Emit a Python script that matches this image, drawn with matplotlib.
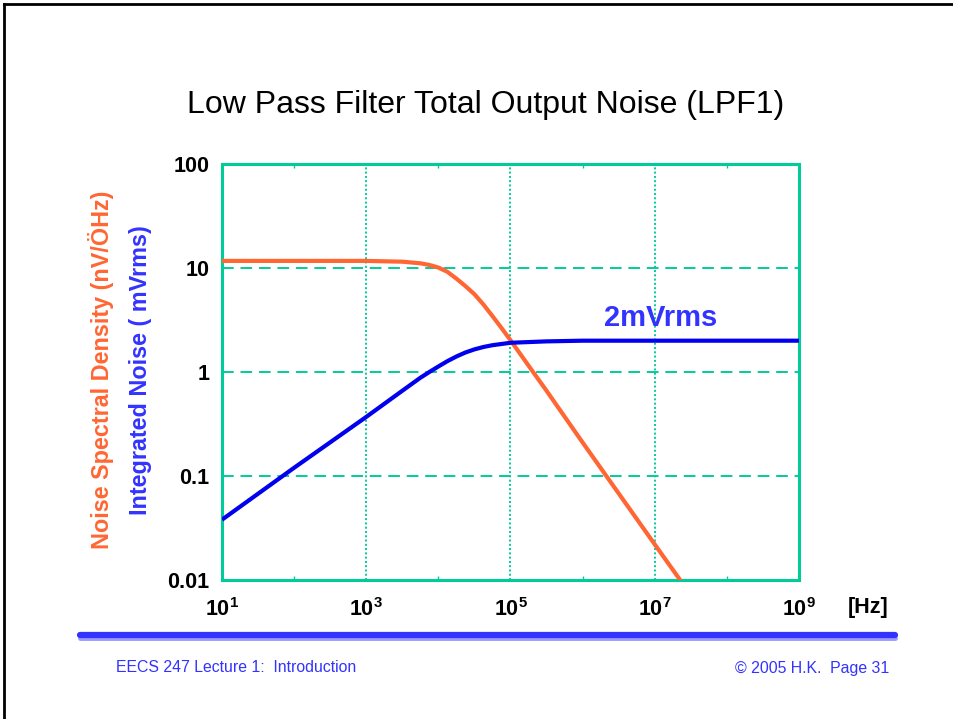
import matplotlib
matplotlib.use('Agg')
import matplotlib.pyplot as plt
from matplotlib.ticker import FixedLocator, FixedFormatter, NullFormatter
from matplotlib.lines import Line2D

plt.rcParams['font.family'] = ['Liberation Sans', 'DejaVu Sans']
plt.rcParams['mathtext.fontset'] = 'custom'
plt.rcParams['mathtext.rm'] = 'Liberation Sans:bold'
plt.rcParams['mathtext.bf'] = 'Liberation Sans:bold'
plt.rcParams['mathtext.it'] = 'Liberation Sans:bold'

title = "Low Pass Filter Total Output Noise (LPF1)"
ylabel_psd = "Noise Spectral Density (nV/ÖHz)"
ylabel_int = "Integrated Noise ( mVrms)"
annotation = "2mVrms"
footer_left = "EECS 247 Lecture 1:  Introduction"
footer_right = "© 2005 H.K.  Page 31"

freq_psd = [1e1, 1e2, 1e3, 3.16e3, 5.62e3, 7.5e3, 1e4, 1.33e4, 1.78e4,
            2.37e4, 3.16e4, 4.22e4, 5.62e4, 7.5e4, 1e5, 1.78e5, 3.16e5,
            1e6, 3.16e6, 1e7, 2.37e7]
psd = [11.7, 11.7, 11.7, 11.5, 11.1, 10.7, 10.1, 9.2, 7.9,
       6.7, 5.6, 4.45, 3.45, 2.65, 2.02, 1.15, 0.66,
       0.21, 0.068, 0.022, 0.0095]

freq_int = [1e1, 1e2, 1e3, 3.16e3, 5.62e3, 7.5e3, 1e4, 1.33e4, 1.78e4,
            2.37e4, 3.16e4, 4.22e4, 5.62e4, 1e5, 3.16e5, 1e6, 1e7, 1e8, 1e9]
integrated = [0.038, 0.12, 0.37, 0.66, 0.88, 1.0, 1.13, 1.27, 1.41,
              1.54, 1.65, 1.74, 1.81, 1.91, 1.97, 2.0, 2.0, 2.0, 2.0]

x_major = [1e1, 1e3, 1e5, 1e7, 1e9]
x_labels = [r'$\mathbf{10^{1}}$', r'$\mathbf{10^{3}}$', r'$\mathbf{10^{5}}$',
            r'$\mathbf{10^{7}}$', r'$\mathbf{10^{9}}$']
x_minor = [1e2, 1e4, 1e6, 1e8]
y_major = [0.01, 0.1, 1, 10, 100]
y_labels = ['0.01', '0.1', '1', '10', '100']

TEAL = '#00CC99'
ORANGE = '#FF6633'
BLUE = '#0000EE'
TEXTBLUE = '#3333FF'

W, H = 954, 719
fig = plt.figure(figsize=(W / 100, H / 100), dpi=100)

def fx(px):
    return px / W

def fy(py):
    return 1 - py / H

# slide frame (top and left)
fig.add_artist(Line2D([fx(4), fx(954)], [fy(4), fy(4)], color='black', lw=2.0))
fig.add_artist(Line2D([fx(4), fx(4)], [fy(4), fy(719)], color='black', lw=2.0))

ax = fig.add_axes([fx(222), fy(580), (799 - 222) / W, (580 - 164) / H])
ax.set_xscale('log')
ax.set_yscale('log')
ax.set_xlim(1e1, 1e9)
ax.set_ylim(0.01, 100)

ax.plot(freq_psd, psd, color=ORANGE, lw=3.0, solid_joinstyle='round',
        solid_capstyle='butt', zorder=3)
ax.plot(freq_int, integrated, color=BLUE, lw=3.0, solid_joinstyle='round',
        solid_capstyle='butt', zorder=4)

ax.xaxis.set_major_locator(FixedLocator(x_major))
ax.xaxis.set_major_formatter(FixedFormatter(x_labels))
ax.xaxis.set_minor_locator(FixedLocator(x_minor))
ax.xaxis.set_minor_formatter(NullFormatter())
ax.yaxis.set_major_locator(FixedLocator(y_major))
ax.yaxis.set_major_formatter(FixedFormatter(y_labels))
ax.yaxis.set_minor_locator(FixedLocator([]))

ax.tick_params(axis='x', which='major', direction='in', length=0, pad=13,
               labelsize=15.5)
ax.tick_params(axis='x', which='minor', direction='in', length=3, width=1,
               color=TEAL, top=True, bottom=True)
ax.tick_params(axis='y', which='major', length=0, pad=9, labelsize=15.5)
for lab in ax.get_yticklabels():
    lab.set_fontweight('bold')

for sp in ax.spines.values():
    sp.set_color(TEAL)
    sp.set_linewidth(2.2)

ax.grid(True, axis='x', which='major', color=TEAL, lw=1.4, linestyle=(0, (1, 1.2)))
ax.grid(True, axis='y', which='major', color=TEAL, lw=1.4, linestyle=(0, (6, 3.5)))
ax.set_axisbelow(True)

ax.text(1.21e7, 2.4, annotation, color=TEXTBLUE, fontsize=21, fontweight='bold',
        ha='center', va='bottom')

fig.text(fx(486), fy(105), title, fontsize=23, ha='center', va='center')
fig.text(fx(101), fy(370), ylabel_psd, color=ORANGE, fontsize=16.8,
         fontweight='bold', rotation=90, ha='center', va='center')
fig.text(fx(141), fy(370), ylabel_int, color=TEXTBLUE, fontsize=16.8,
         fontweight='bold', rotation=90, ha='center', va='center')
fig.text(fx(848), fy(608), '[Hz]', fontsize=15.5, fontweight='bold',
         ha='left', va='center')

# blue separator rule
fig.add_artist(Line2D([fx(80), fx(895)], [fy(638), fy(638)], color='#9999FF',
                      lw=3.5, solid_capstyle='round'))
fig.add_artist(Line2D([fx(80), fx(895)], [fy(635), fy(635)], color=TEXTBLUE,
                      lw=4.5, solid_capstyle='round'))

fig.text(fx(116), fy(668), footer_left, color=TEXTBLUE, fontsize=11.4,
         ha='left', va='center')
fig.text(fx(889), fy(668), footer_right, color=TEXTBLUE, fontsize=11.4,
         ha='right', va='center')

fig.savefig('out.png', dpi=100, facecolor='white')
